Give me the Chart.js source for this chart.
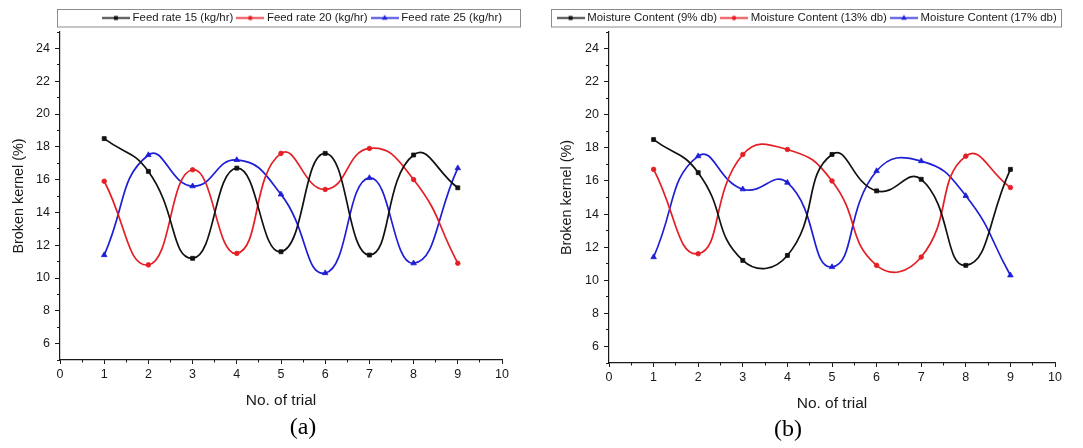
<!DOCTYPE html>
<html>
<head>
<meta charset="utf-8">
<script src="https://cdn.jsdelivr.net/npm/chart.js@4/dist/chart.umd.min.js"></script>
<style>
  html, body { margin: 0; padding: 0; background: #fff; }
  #wrap { position: relative; width: 1083px; height: 448px; overflow: hidden; background: #fff; }
  #wrap canvas { position: absolute; top: 0; }
  #chartA { left: 0; }
  #chartB { left: 541px; }
  .cap {
    position: absolute;
    font-family: 'Liberation Serif', 'Times New Roman', serif;
    font-size: 24px;
    line-height: 1;
    color: #000;
    transform: translate(-50%, -50%);
    white-space: nowrap;
  }
</style>
</head>
<body>
<div id="wrap">
  <canvas id="chartA" width="540" height="448"></canvas>
  <canvas id="chartB" width="542" height="448"></canvas>
  <div class="cap" style="left:303px; top:426px;">(a)</div>
  <div class="cap" style="left:788px; top:428px;">(b)</div>
</div>
<script>
// ---- data ----
const trials = [1, 2, 3, 4, 5, 6, 7, 8, 9];

const xTicks = [0, 1, 2, 3, 4, 5, 6, 7, 8, 9, 10];
const xMinorTicks = [0.5, 1.5, 2.5, 3.5, 4.5, 5.5, 6.5, 7.5, 8.5, 9.5];
const yTicks = [6, 8, 10, 12, 14, 16, 18, 20, 22, 24];
const yMinorTicks = [5, 7, 9, 11, 13, 15, 17, 19, 21, 23, 25];

const feedLabels = ['Feed rate 15 (kg/hr)', 'Feed rate 20 (kg/hr)', 'Feed rate 25 (kg/hr)'];
const feed15 = [18.5, 16.5, 11.2, 16.7, 11.6, 17.6, 11.4, 17.5, 15.5];
const feed20 = [15.9, 10.8, 16.6, 11.5, 17.6, 15.4, 17.9, 16.0, 10.9];
const feed25 = [11.4, 17.5, 15.6, 17.2, 15.1, 10.3, 16.1, 10.9, 16.7];

const moistLabels = ['Moisture Content (9% db)', 'Moisture Content (13% db)', 'Moisture Content (17% db)'];
const moist9  = [18.5, 16.5, 11.2, 11.5, 17.6, 15.4, 16.1, 10.9, 16.7];
const moist13 = [16.7, 11.6, 17.6, 17.9, 16.0, 10.9, 11.4, 17.5, 15.6];
const moist17 = [11.4, 17.5, 15.5, 15.9, 10.8, 16.6, 17.2, 15.1, 10.3];

// ---- styling ----
Chart.defaults.font.family = "'Liberation Sans', Arial, Helvetica, sans-serif";
const INK = '#1a1a1a';
const seriesStyles = [
  { color: '#111111', marker: 'rect',     radius: 2.8 },
  { color: 'rgb(228,30,36)', marker: 'circle',   radius: 2.3 },
  { color: 'rgb(30,30,215)', marker: 'triangle', radius: 3.2 }
];

// small line-with-marker swatch for the legend
function legendIcon(st) {
  const c = document.createElement('canvas');
  c.width = 28; c.height = 9;
  const g = c.getContext('2d');
  g.strokeStyle = st.color; g.fillStyle = st.color; g.lineWidth = 1.6;
  g.beginPath(); g.moveTo(0, 4.5); g.lineTo(28, 4.5); g.stroke();
  g.beginPath();
  if (st.marker === 'rect') g.rect(12, 2.5, 4, 4);
  else if (st.marker === 'circle') g.arc(14, 4.5, 2.2, 0, Math.PI * 2);
  else { g.moveTo(14, 1.2); g.lineTo(16.8, 6.2); g.lineTo(11.2, 6.2); g.closePath(); }
  g.fill();
  return c;
}

function makeDatasets(labels, seriesList) {
  return seriesList.map((vals, i) => {
    const st = seriesStyles[i];
    return {
      label: labels[i],
      data: trials.map((t, k) => ({ x: t, y: vals[k] })),
      borderColor: st.color,
      backgroundColor: st.color,
      borderWidth: 1.7,
      tension: 0.5,
      fill: false,
      pointStyle: st.marker,
      pointRadius: st.radius,
      pointBorderWidth: 0.8,
      pointBorderColor: st.color,
      pointBackgroundColor: st.color
    };
  });
}

// keeps the legend in a fixed band above the plot and frames it
const legendFrame = {
  id: 'legendFrame',
  beforeInit(chart, args, opts) {
    const lg = chart.legend;
    if (!lg) return;
    const fit = lg.fit;
    lg.fit = function () {
      this.maxWidth = 2000;
      fit.call(this);
      this.height = opts.height;
    };
  },
  afterLayout(chart, args, opts) {
    if (chart.legend) chart.legend.right = opts.right;
  },
  afterDraw(chart, args, opts) {
    const c = chart.ctx;
    const b = opts.box;
    c.save();
    c.strokeStyle = '#8c8c8c';
    c.lineWidth = 1;
    c.strokeRect(b[0], b[1], b[2], b[3]);
    c.restore();
  }
};

function buildChart(id, labels, seriesList, g) {
  const icons = seriesStyles.map(legendIcon);
  return new Chart(document.getElementById(id), {
    type: 'line',
    data: { datasets: makeDatasets(labels, seriesList) },
    plugins: [legendFrame],
    options: {
      responsive: false,
      animation: false,
      devicePixelRatio: 1,
      layout: { padding: { top: g.padTop, left: 0, right: g.padRight, bottom: 0 } },
      plugins: {
        tooltip: { enabled: false },
        legendFrame: { height: g.legendH, right: g.legendRight, box: g.box },
        legend: {
          display: true,
          position: 'top',
          align: 'end',
          labels: {
            usePointStyle: true,
            pointStyleWidth: 22,
            padding: 6,
            color: INK,
            font: { size: 11.4 },
            generateLabels: (chart) => chart.data.datasets.map((ds, i) => ({
              text: ds.label,
              pointStyle: icons[i],
              datasetIndex: i,
              hidden: false,
              lineWidth: 0,
              strokeStyle: 'rgba(0,0,0,0)',
              fillStyle: 'rgba(0,0,0,0)',
              fontColor: INK
            }))
          }
        }
      },
      scales: {
        x: {
          type: 'linear', position: 'bottom', weight: 1, min: 0, max: 10,
          afterBuildTicks: (s) => { s.ticks = xTicks.map(v => ({ value: v })); },
          afterFit: (s) => { s.height = g.xAxisH; },
          ticks: { autoSkip: false, maxRotation: 0, padding: 3, color: INK, font: { size: 12.5 } },
          grid: { drawOnChartArea: false, tickLength: 4, color: INK, tickWidth: 1 },
          border: { display: true, color: INK, width: 1.2 },
          title: {
            display: true, text: 'No. of trial', color: INK,
            font: { size: 15.5 }, padding: { top: 0, bottom: g.xTitlePad }
          }
        },
        xMinor: {
          type: 'linear', position: 'bottom', weight: 0, min: 0, max: 10,
          afterBuildTicks: (s) => { s.ticks = xMinorTicks.map(v => ({ value: v })); },
          afterFit: (s) => { s.height = 0; },
          ticks: { display: false },
          grid: { drawOnChartArea: false, tickLength: 2.5, color: INK, tickWidth: 1 },
          border: { display: false }
        },
        y: {
          type: 'linear', position: 'left', weight: 1, min: 5, max: 25,
          afterBuildTicks: (s) => { s.ticks = yTicks.map(v => ({ value: v })); },
          afterFit: (s) => { s.width = g.yAxisW; },
          ticks: { autoSkip: false, padding: 5, color: INK, font: { size: 12.5 } },
          grid: { drawOnChartArea: false, tickLength: 5, color: INK, tickWidth: 1 },
          border: { display: true, color: INK, width: 1.2 },
          title: {
            display: true, text: 'Broken kernel (%)', color: INK,
            font: { size: 14.4 }, padding: { top: g.yTitlePad, bottom: 0 }
          }
        },
        yMinor: {
          type: 'linear', position: 'left', weight: 0, min: 5, max: 25,
          afterBuildTicks: (s) => { s.ticks = yMinorTicks.map(v => ({ value: v })); },
          afterFit: (s) => { s.width = 0; },
          ticks: { display: false },
          grid: { drawOnChartArea: false, tickLength: 3, color: INK, tickWidth: 1 },
          border: { display: false }
        }
      }
    }
  });
}

buildChart('chartA', feedLabels, [feed15, feed20, feed25], {
  padTop: 6.3, padRight: 38, legendH: 25.7, legendRight: 508,
  box: [57.5, 9.5, 463, 17.5],
  yAxisW: 60, xAxisH: 88, yTitlePad: 10, xTitlePad: 37.7
});

buildChart('chartB', moistLabels, [moist9, moist13, moist17], {
  padTop: 6.3, padRight: 28, legendH: 25.7, legendRight: 521.7,
  box: [10.5, 9.5, 510, 17.5],
  yAxisW: 68, xAxisH: 85, yTitlePad: 17.4, xTitlePad: 34.7
});
</script>
</body>
</html>
